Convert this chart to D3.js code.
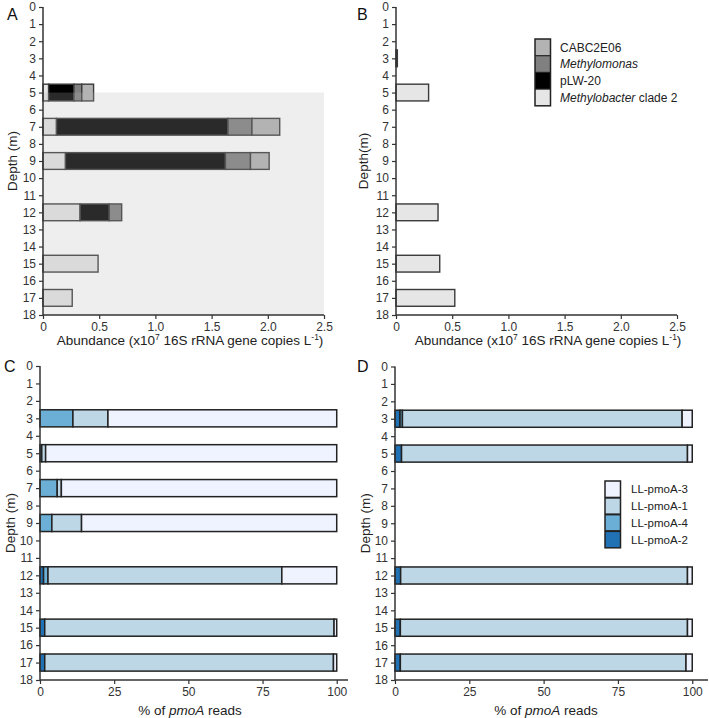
<!DOCTYPE html>
<html>
<head>
<meta charset="utf-8">
<script src="https://cdn.jsdelivr.net/npm/d3@7/dist/d3.min.js"></script>
<style>
  body { margin: 0; background: #fff; }
  svg { display: block; font-family: "Liberation Sans", Arial, Helvetica, sans-serif; }
</style>
</head>
<body>
<svg id="chart" width="709" height="718"></svg>
<script>
// ---------- data ----------
const depthTicks = [0,1,2,3,4,5,6,7,8,9,10,11,12,13,14,15,16,17,18];
const abundanceTicks = [0, 0.5, 1.0, 1.5, 2.0, 2.5];
const percentTicks = [0, 25, 50, 75, 100];

// Panel A (x10^7 16S rRNA gene copies per L)
const depthsA = [5, 7, 9, 12, 15, 17];
const methylobacterA = [0.05, 0.12, 0.20, 0.33, 0.49, 0.26];
const pLW20A        = [0.225, 1.526, 1.423, 0.26, 0, 0];
const methylomonasA = [0.07, 0.213, 0.223, 0.11, 0, 0];
const cabcA         = [0.105, 0.247, 0.166, 0, 0, 0];

// Panel B
const depthsB = [3, 5, 12, 15, 17];
const methylobacterB = [0, 0.29, 0.374, 0.389, 0.523];
const pLW20B        = [0.012, 0, 0, 0, 0];
const methylomonasB = [0, 0, 0, 0, 0];
const cabcB         = [0, 0, 0, 0, 0];

// Panel C (% of pmoA reads)
const depthsC = [3, 5, 7, 9, 12, 15, 17];
const pmoA2C = [0, 0.6, 0, 0, 1.2, 1.6, 1.6];
const pmoA4C = [11.1, 0, 5.8, 4.0, 1.5, 0, 0];
const pmoA1C = [11.8, 1.3, 1.4, 10.0, 78.8, 97.5, 97.3];
const pmoA3C = [77.1, 98.1, 92.8, 86.0, 18.5, 0.9, 1.1];

// Panel D
const depthsD = [3, 5, 12, 15, 17];
const pmoA2D = [1.7, 2.2, 1.9, 1.8, 1.8];
const pmoA4D = [0.8, 0, 0, 0, 0];
const pmoA1D = [94.1, 96.2, 96.5, 96.6, 96.1];
const pmoA3D = [3.4, 1.6, 1.6, 1.6, 2.1];

const taxaKeys = ["Methylobacter clade 2", "pLW-20", "Methylomonas", "CABC2E06"];
const taxaColors = { "Methylobacter clade 2": "#e6e6e6", "pLW-20": "#000000", "Methylomonas": "#808080", "CABC2E06": "#b3b3b3" };
const pmoaKeys = ["LL-pmoA-2", "LL-pmoA-4", "LL-pmoA-1", "LL-pmoA-3"];
const pmoaColors = { "LL-pmoA-2": "#2171b5", "LL-pmoA-4": "#6baed6", "LL-pmoA-1": "#bdd7e7", "LL-pmoA-3": "#eff3ff" };

// ---------- helpers ----------
const svg = d3.select("#chart");
const AXC = "#333";

function rows(depths, keys, arrays) {
  return depths.map((d, i) => {
    const r = { depth: d };
    keys.forEach((k, j) => r[k] = arrays[j][i]);
    return r;
  });
}

function panel(opt) {
  const g = svg.append("g");
  const x = d3.scaleLinear().domain(opt.xDomain).range([opt.x0, opt.x1]);
  const y = d3.scaleLinear().domain([0, 18]).range([opt.y0, opt.y1]);

  // bars
  const stack = d3.stack().keys(opt.keys)(opt.data);
  const band = (y(1) - y(0)) * 0.98;
  stack.forEach(layer => {
    g.append("g").selectAll("rect").data(layer.filter(d => d[1] - d[0] > 0)).join("rect")
      .attr("x", d => x(d[0]))
      .attr("width", d => x(d[1]) - x(d[0]))
      .attr("y", d => y(d.data.depth) - band / 2)
      .attr("height", band)
      .attr("fill", opt.colors[layer.key])
      .attr("stroke", opt.barStroke)
      .attr("stroke-width", opt.barStrokeW);
  });

  if (opt.shade) {
    g.append("rect")
      .attr("x", x(0)).attr("width", x(opt.shade.x1) - x(0))
      .attr("y", y(opt.shade.y0)).attr("height", y(18) - y(opt.shade.y0))
      .attr("fill", "#b6b6b6").attr("opacity", 0.23);
  }

  // y axis
  const ya = g.append("g").attr("transform", `translate(${opt.x0},0)`)
    .call(d3.axisLeft(y).tickValues(depthTicks).tickFormat(d3.format("d")).tickSize(4).tickPadding(3));
  // x axis
  const xa = g.append("g").attr("transform", `translate(0,${opt.y1})`)
    .call(d3.axisBottom(x).tickValues(opt.xTicks).tickFormat(opt.xFormat).tickSize(4).tickPadding(3));
  [ya, xa].forEach(a => {
    a.select(".domain").attr("stroke", AXC).attr("stroke-width", 1.5);
    a.selectAll(".tick line").attr("stroke", AXC).attr("stroke-width", 1.2);
    a.selectAll(".tick text").attr("fill", "#333").attr("font-size", 12).attr("font-family", null);
  });
  ya.select(".domain").attr("d", `M0,${opt.y0}V${opt.y1}`);
  xa.select(".domain").attr("d", `M${opt.x0},0H${opt.x1}`);

  // y title
  g.append("text")
    .attr("transform", `translate(${opt.yTitleX},${(opt.y0 + opt.y1) / 2}) rotate(-90)`)
    .attr("text-anchor", "middle").attr("font-size", 13.5).attr("fill", "#222")
    .text(opt.yTitle);

  // panel letter
  g.append("text").attr("x", opt.letterX).attr("y", opt.letterY)
    .attr("font-size", 16).attr("fill", "#111").text(opt.letter);

  // x title
  const t = g.append("text").attr("x", opt.xTitleX).attr("y", opt.xTitleY)
    .attr("text-anchor", "middle").attr("font-size", 13.5).attr("fill", "#222");
  opt.xTitle(t);
  return { g, x, y };
}

function abundanceTitle(t) {
  t.append("tspan").text("Abundance (x10");
  t.append("tspan").attr("font-size", 8.5).attr("dy", -5).text("7");
  t.append("tspan").attr("dy", 5).text(" 16S rRNA gene copies L");
  t.append("tspan").attr("font-size", 8.5).attr("dy", -5).text("-1");
  t.append("tspan").attr("dy", 5).text(")");
}
function pmoaTitle(t) {
  t.append("tspan").text("% of ");
  t.append("tspan").attr("font-style", "italic").text("pmoA");
  t.append("tspan").text(" reads");
}
const abFmt = d => d === 0 ? "0" : d3.format(".1f")(d);

// ---------- panels ----------
panel({
  letter: "A", letterX: 7, letterY: 20,
  x0: 43, x1: 324, y0: 7, y1: 315, xDomain: [0, 2.5], xTicks: abundanceTicks, xFormat: abFmt,
  keys: taxaKeys, colors: taxaColors,
  data: rows(depthsA, taxaKeys, [methylobacterA, pLW20A, methylomonasA, cabcA]),
  barStroke: "#3a3a3a", barStrokeW: 1.4,
  shade: { x1: 2.5, y0: 5 },
  yTitle: "Depth (m)", yTitleX: 17,
  xTitle: abundanceTitle, xTitleX: 190, xTitleY: 345
});

panel({
  letter: "B", letterX: 357, letterY: 20,
  x0: 396, x1: 677, y0: 7, y1: 315, xDomain: [0, 2.5], xTicks: abundanceTicks, xFormat: abFmt,
  keys: taxaKeys, colors: taxaColors,
  data: rows(depthsB, taxaKeys, [methylobacterB, pLW20B, methylomonasB, cabcB]),
  barStroke: "#3a3a3a", barStrokeW: 1.4,
  yTitle: "Depth(m)", yTitleX: 368,
  xTitle: abundanceTitle, xTitleX: 548, xTitleY: 345
});

panel({
  letter: "C", letterX: 4, letterY: 372,
  x0: 40, x1: 348, y0: 366, y1: 680, xDomain: [0, 103.8], xTicks: percentTicks, xFormat: d3.format("d"),
  keys: pmoaKeys, colors: pmoaColors,
  data: rows(depthsC, pmoaKeys, [pmoA2C, pmoA4C, pmoA1C, pmoA3C]),
  barStroke: "#222", barStrokeW: 1.5,
  yTitle: "Depth (m)", yTitleX: 15,
  xTitle: pmoaTitle, xTitleX: 190, xTitleY: 715
});

panel({
  letter: "D", letterX: 357, letterY: 372,
  x0: 395, x1: 708, y0: 366.5, y1: 680, xDomain: [0, 105.3], xTicks: percentTicks, xFormat: d3.format("d"),
  keys: pmoaKeys, colors: pmoaColors,
  data: rows(depthsD, pmoaKeys, [pmoA2D, pmoA4D, pmoA1D, pmoA3D]),
  barStroke: "#222", barStrokeW: 1.5,
  yTitle: "Depth (m)", yTitleX: 370,
  xTitle: pmoaTitle, xTitleX: 546, xTitleY: 715
});

// ---------- legends ----------
function legend(items, colors, x, y, sw, sh, labelX, fontSize, sepW, italicFn) {
  const g = svg.append("g");
  items.forEach((k, i) => {
    g.append("rect").attr("x", x).attr("y", y + i * sh).attr("width", sw).attr("height", sh)
      .attr("fill", colors[k]);
    const t = g.append("text").attr("x", labelX).attr("y", y + i * sh + sh / 2 + fontSize * 0.36)
      .attr("font-size", fontSize).attr("fill", "#222");
    italicFn(t, k);
  });
  for (let i = 1; i < items.length; i++) {
    g.append("line").attr("x1", x).attr("x2", x + sw).attr("y1", y + i * sh).attr("y2", y + i * sh)
      .attr("stroke", "#222").attr("stroke-width", sepW);
  }
  g.append("rect").attr("x", x).attr("y", y).attr("width", sw).attr("height", sh * items.length)
    .attr("fill", "none").attr("stroke", "#222").attr("stroke-width", 1.5);
}

const legendTaxa = ["CABC2E06", "Methylomonas", "pLW-20", "Methylobacter clade 2"];
legend(legendTaxa, taxaColors, 535, 39, 15.5, 16.7, 560, 12, 1.2, (t, k) => {
  if (k === "Methylomonas") t.append("tspan").attr("font-style", "italic").text("Methylomonas");
  else if (k === "Methylobacter clade 2") {
    t.append("tspan").attr("font-style", "italic").text("Methylobacter");
    t.append("tspan").text(" clade 2");
  } else t.text(k);
});

const legendPmoa = ["LL-pmoA-3", "LL-pmoA-1", "LL-pmoA-4", "LL-pmoA-2"];
legend(legendPmoa, pmoaColors, 605, 481, 15.5, 16.7, 631, 11.5, 2, (t, k) => t.text(k));
</script>
</body>
</html>
